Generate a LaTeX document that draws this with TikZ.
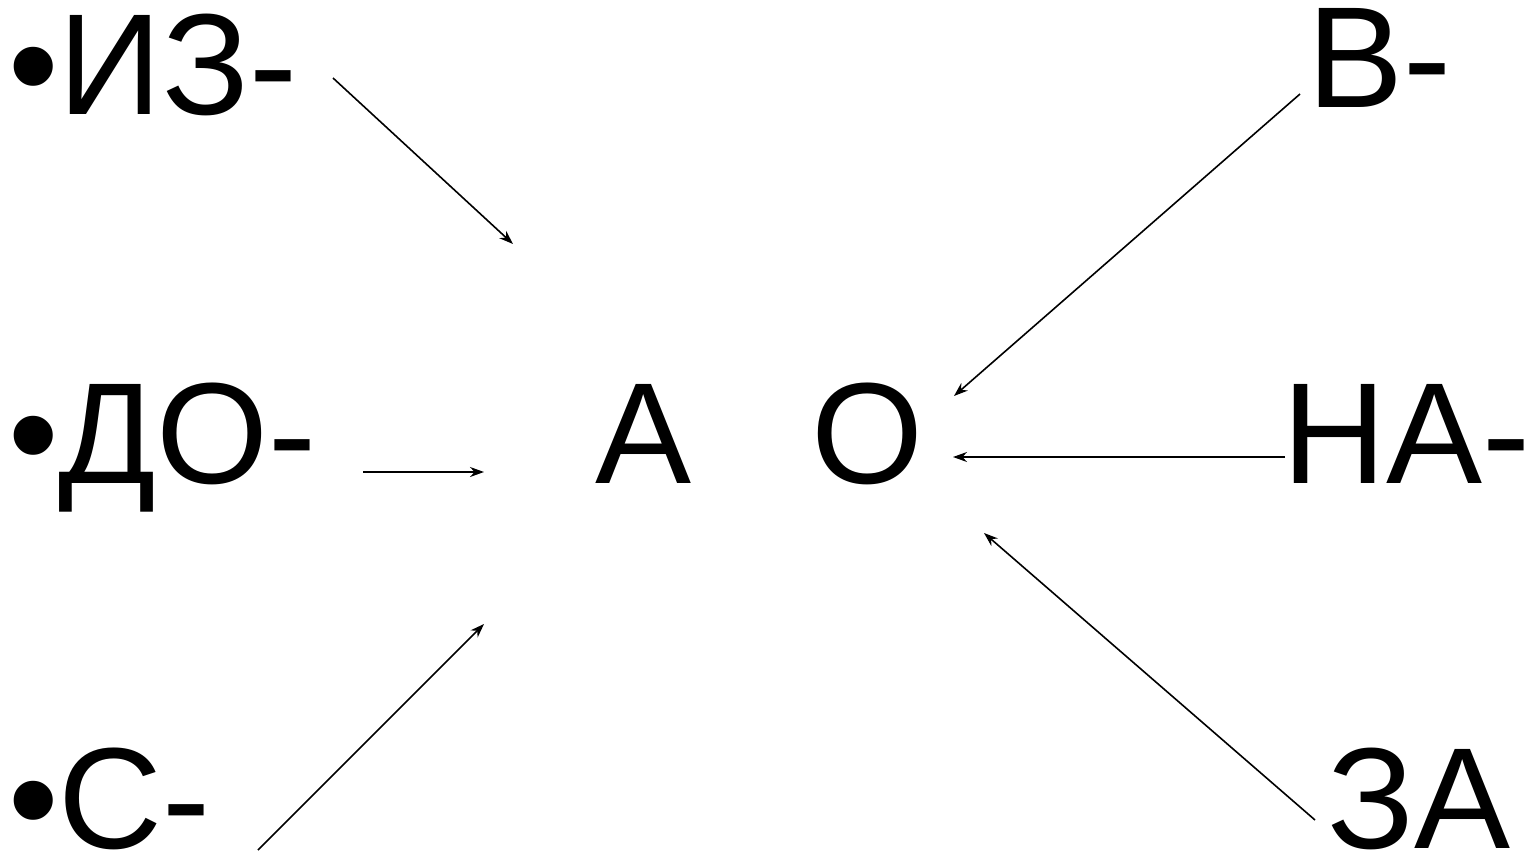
\documentclass[tikz,border=0pt]{standalone}
\usepackage{fontspec}
\setmainfont{Liberation Sans}
\usetikzlibrary{positioning, arrows.meta}

\begin{document}
\begin{tikzpicture}[
		x=0.5pt, y=-0.5pt,
		>={Stealth[length=7pt, width=5pt]},
		every node/.style={font=\fontsize{72}{86}\selectfont},
		morpheme/.style={inner sep=0pt, anchor=base west},
		vowel/.style={inner sep=0pt, anchor=base west},
		link/.style={->, line width=0.8pt},
		]
		\useasboundingbox (0,0) rectangle (1531,856);
		
		% Left column
		\node[morpheme] (iz) at (8,115) {•ИЗ-};
		\node[morpheme] (do) at (8,483) {•ДО-};
		\node[morpheme] (s) at (8,848) {•С-};
		
		% Right column
		\node[morpheme] (v) at (1307,108) {В-};
		\node[morpheme] (na) at (1282,483) {НА-};
		\node[morpheme] (za) at (1327,848) {ЗА};
		
		% Vowels in the middle
		\node[vowel] (a) at (595,483) {А};
		\node[vowel] (o) at (811,483) {О};
		
		% Arrow ends
		\coordinate (iz-out) at (333,78);
		\coordinate (iz-in) at (513,244);
		\coordinate (do-out) at (363,472);
		\coordinate (do-in) at (484,472);
		\coordinate (s-out) at (258,850);
		\coordinate (s-in) at (484,624);
		\coordinate (v-out) at (1300,94);
		\coordinate (v-in) at (954,396);
		\coordinate (na-out) at (1285,457);
		\coordinate (na-in) at (953,457);
		\coordinate (za-out) at (1315,820);
		\coordinate (za-in) at (984,533);
		
		% Arrows towards the vowels
		\draw[link] (iz-out) -- (iz-in);
		\draw[link] (do-out) -- (do-in);
		\draw[link] (s-out) -- (s-in);
		\draw[link] (v-out) -- (v-in);
		\draw[link] (na-out) -- (na-in);
		\draw[link] (za-out) -- (za-in);
		
	\end{tikzpicture}
\end{document}
